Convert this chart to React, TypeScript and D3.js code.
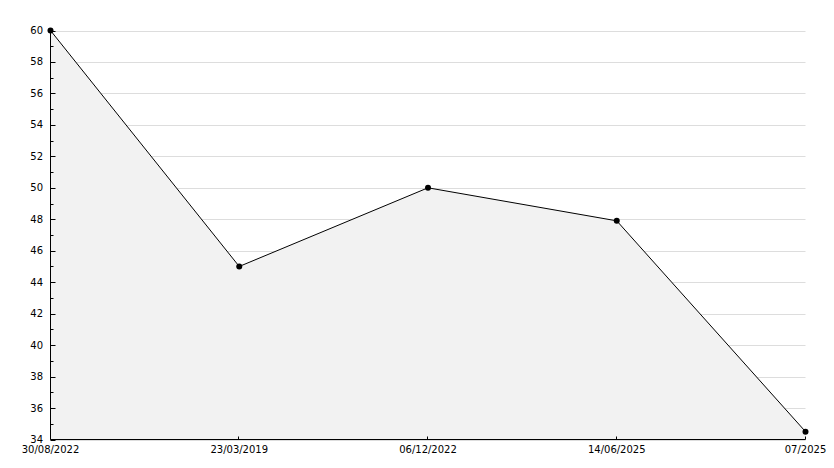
import React from "react";
import * as d3 from "d3";

const categories = ["30/08/2022", "23/03/2019", "06/12/2022", "14/06/2025", "07/2025"];
const values = [60, 45, 50, 47.9, 34.5];
const yTicks = [34, 36, 38, 40, 42, 44, 46, 48, 50, 52, 54, 56, 58, 60];
const yMinor = [35, 37, 39, 41, 43, 45, 47, 49, 51, 53, 55, 57, 59];

export default function App() {
  const W = 834, H = 468;
  const left = 50.5, right = 805.5, top = 30.5, bottom = 439.5;
  const x = d3.scalePoint<number>().domain(d3.range(categories.length)).range([left, right]);
  const y = d3.scaleLinear().domain([34, 60]).range([bottom, top]);
  const line = d3.line<number>().x((_, i) => x(i)!).y((d) => y(d));
  const area = d3.area<number>().x((_, i) => x(i)!).y0(bottom).y1((d) => y(d));
  const font = "DejaVu Sans, Verdana, sans-serif";
  return (
    <svg width={W} height={H} style={{ position: "absolute", left: 0, top: 0, background: "#fff" }}>
      {yTicks.map((t) => (
        <line key={"g" + t} x1={left} x2={right} y1={Math.round(y(t)) + 0.5} y2={Math.round(y(t)) + 0.5} stroke="#dddddd" />
      ))}
      <path d={area(values)!} fill="#f2f2f2" />
      <path d={line(values)!} fill="none" stroke="#000" strokeWidth={1} />
      <line x1={left} x2={left} y1={top} y2={bottom} stroke="#000" />
      <line x1={left} x2={right} y1={bottom} y2={bottom} stroke="#000" />
      {yTicks.map((t) => (
        <g key={"t" + t}>
          <line x1={left} x2={left + 5} y1={Math.round(y(t)) + 0.5} y2={Math.round(y(t)) + 0.5} stroke="#000" />
          <text x={43} y={y(t)} dy="0.35em" textAnchor="end" fontFamily={font} fontSize={10} fill="#000">{t}</text>
        </g>
      ))}
      {yMinor.map((t) => (
        <line key={"m" + t} x1={left} x2={left + 3} y1={Math.round(y(t)) + 0.5} y2={Math.round(y(t)) + 0.5} stroke="#000" />
      ))}
      {categories.map((c, i) => (
        <g key={"x" + i}>
          <line x1={Math.round(x(i)!) - 0.5} x2={Math.round(x(i)!) - 0.5} y1={bottom} y2={bottom - 3} stroke="#000" />
          <text x={x(i)!} y={453} textAnchor="middle" fontFamily={font} fontSize={10} fill="#000">{c}</text>
        </g>
      ))}
      {values.map((v, i) => (
        <circle key={"p" + i} cx={x(i)!} cy={y(v)} r={3} fill="#000" />
      ))}
    </svg>
  );
}
